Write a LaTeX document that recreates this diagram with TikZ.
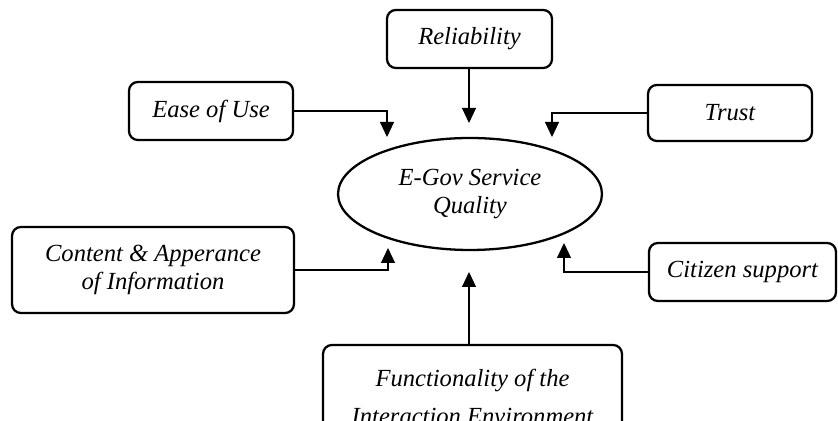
\documentclass[tikz,border=0pt]{standalone}
\usepackage{fontspec}
\setmainfont{Liberation Serif}
\usetikzlibrary{shapes,arrows.meta,positioning}

\begin{document}
\begin{tikzpicture}[x=0.02cm, y=-0.02cm,
    factor/.style={rectangle, draw=black, line width=1.3pt, rounded corners=5pt, align=center, inner sep=0pt, font=\fontsize{14}{16}\selectfont\itshape},
    core/.style={ellipse, draw=black, line width=1.3pt, align=center, inner sep=0pt, font=\fontsize{14}{16}\selectfont\itshape},
    link/.style={line width=0.6pt, -{Triangle[width=0.28cm, length=0.3cm]}}
]
\clip (0,0) rectangle (838,421);

% Service quality
\node[core, minimum width=5.28cm, minimum height=2.24cm] (qual) at (470,194) {E-Gov Service\\Quality};

% Factors
\node[factor, minimum width=3.3cm, minimum height=1.16cm] (rel) at (469.5,39) {Reliability};
\node[factor, minimum width=3.28cm, minimum height=1.16cm] (ease) at (211,111) {Ease of Use};
\node[factor, minimum width=3.28cm, minimum height=1.12cm] (trust) at (730,113) {Trust};
\node[factor, minimum width=5.64cm, minimum height=1.72cm] (cont) at (153,270) {Content \& Apperance\\of Information};
\node[factor, minimum width=3.74cm, minimum height=1.16cm] (cit) at (742.5,272) {Citizen support};
\node[factor, minimum width=5.98cm, minimum height=2.08cm, font=\fontsize{14}{21.5}\selectfont\itshape] (func) at (472.5,397) {Functionality of the\\Interaction Environment};

% Arrow ends
\coordinate (reltip) at (469,123);
\coordinate (easetip) at (387,137);
\coordinate (trusttip) at (552,137);
\coordinate (conttip) at (388,248);
\coordinate (cittip) at (564,243);
\coordinate (functip) at (469,272);

% Links
\draw[link] (rel.south -| reltip) -- (reltip);
\draw[link] (ease.east) -| (easetip);
\draw[link] (trust.west) -| (trusttip);
\draw[link] (cont.east) -| (conttip);
\draw[link] (cit.west) -| (cittip);
\draw[link] (func.north -| functip) -- (functip);

\end{tikzpicture}
\end{document}
